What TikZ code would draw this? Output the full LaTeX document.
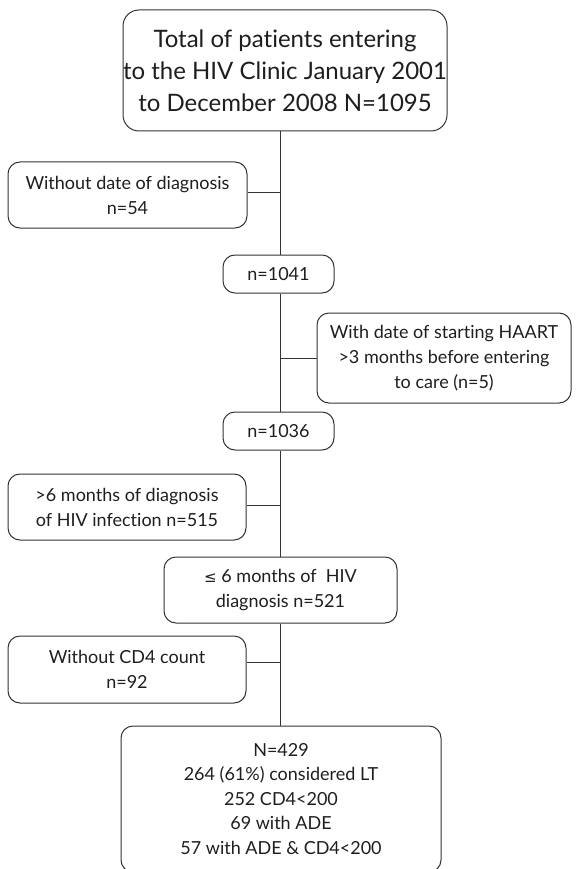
\documentclass[tikz,border=0pt]{standalone}
\usepackage{fontspec}
\setmainfont{Lato}[Ligatures={NoCommon,NoRequired,NoContextual}]
\newfontfamily\symfont{DejaVu Sans}
\definecolor{linec}{HTML}{333333}
\definecolor{textc}{HTML}{1E1E1E}
\begin{document}
\begin{tikzpicture}[x=1pt,y=-1pt,
  box/.style={draw=linec, line width=1pt, rounded corners=12pt, align=center, inner sep=0pt, text=textc, font=\fontsize{18}{25}\selectfont},
  conn/.style={draw=linec, line width=0.9pt}]
\useasboundingbox (0,0) rectangle (577,869);
\coordinate (sp) at (280,0);
\node[box, minimum width=324pt, minimum height=121pt, rounded corners=16pt, font=\fontsize{24}{32}\selectfont] (top) at (285,70.5) {Total of patients entering\\to the HIV Clinic January 2001\\to December 2008 N=1095};
\node[box, minimum width=239pt, minimum height=66pt] (nodate) at (127.5,195) {Without date of diagnosis\\n=54};
\node[box, minimum width=111pt, minimum height=38pt] (n1041) at (278.5,274) {n=1041};
\node[box, minimum width=254pt, minimum height=90pt] (haart) at (444,358) {With date of starting HAART\\>3 months before entering\\to care (n=5)};
\node[box, minimum width=111pt, minimum height=38pt] (n1036) at (278.5,431) {n=1036};
\node[box, minimum width=238pt, minimum height=66pt] (gt6) at (127,507) {>6 months of diagnosis\\of HIV infection n=515};
\node[box, minimum width=233pt, minimum height=66pt] (le6) at (280.5,590) {{\symfont\fontsize{15}{25}\selectfont ≤} 6 months of\ \ HIV\\diagnosis n=521};
\node[box, minimum width=238pt, minimum height=67pt] (nocd4) at (127,669.5) {Without CD4 count\\n=92};
\node[box, minimum width=320pt, minimum height=146pt, font=\fontsize{18}{24.5}\selectfont] (final) at (281,799) {N=429\\264 (61\%) considered LT\\252 CD4<200\\69 with ADE\\57 with ADE \& CD4<200};
% trunk
\draw[conn] (top.south -| sp) -- (n1041.north -| sp);
\draw[conn] (n1041.south -| sp) -- (n1036.north -| sp);
\draw[conn] (n1036.south -| sp) -- (le6.north -| sp);
\draw[conn] (le6.south -| sp) -- (final.north -| sp);
% side branches
\draw[conn] ([yshift=3pt]nodate.east) -- ([yshift=3pt]nodate.east -| sp);
\draw[conn] (haart.west) -- (haart.west -| sp);
\draw[conn] ([yshift=2pt]gt6.east) -- ([yshift=2pt]gt6.east -| sp);
\draw[conn] ([yshift=7pt]nocd4.east) -- ([yshift=7pt]nocd4.east -| sp);
\end{tikzpicture}
\end{document}
